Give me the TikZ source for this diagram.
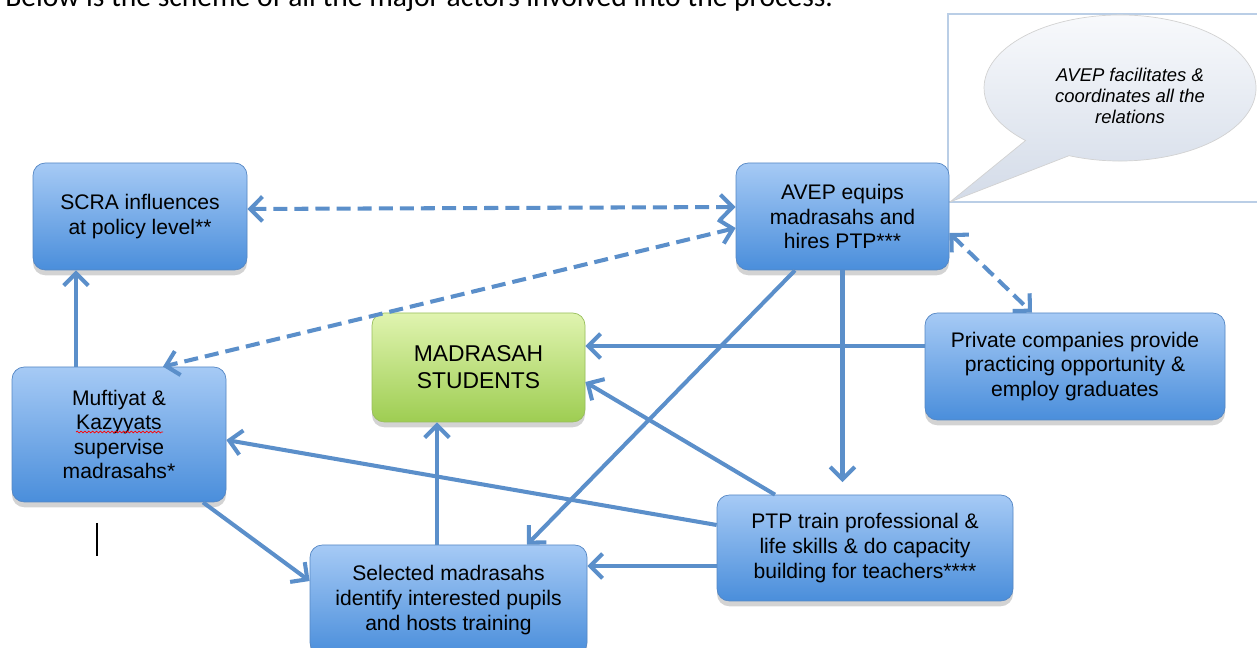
\documentclass[tikz,border=0pt]{standalone}
\usepackage{fontspec}
\setmainfont{Liberation Sans}
\newfontfamily\bodyfont{Carlito}
\usetikzlibrary{calc,shapes,positioning,shadows,arrows.meta}
\usetikzlibrary{decorations.pathmorphing}

\definecolor{boxtop}{HTML}{A6CAF5}
\definecolor{boxbot}{HTML}{4A8EDB}
\definecolor{boxline}{HTML}{5587C4}
\definecolor{grtop}{HTML}{E0F4B0}
\definecolor{grbot}{HTML}{9ECD52}
\definecolor{grline}{HTML}{98BE5C}
\definecolor{linkc}{HTML}{5B8FCA}
\definecolor{calltop}{HTML}{FAFBFD}
\definecolor{callbot}{HTML}{D3DBE8}
\definecolor{framec}{HTML}{BACEE6}

\begin{document}
\begin{tikzpicture}[>={Straight Barb[length=7pt,width=14pt]}]
    \tikzstyle{bnode} = [draw=boxline, rounded corners=7pt, top color=boxtop, bottom color=boxbot, align=center,
    font=\fontsize{12}{14}\selectfont, inner sep=2pt, drop shadow={shadow xshift=0pt, shadow yshift=-3pt, opacity=0.35}]
    \tikzstyle{gnode} = [bnode, draw=grline, top color=grtop, bottom color=grbot, font=\fontsize{13}{15.5}\selectfont]
    \tikzstyle{link} = [->, draw=linkc, line width=2.3pt]
    \tikzstyle{dlink} = [link, <->, dash pattern=on 8pt off 4pt]

    \useasboundingbox (0,0) rectangle (25.14,12.96);

    % line of text above, cut by the page edge
    \node[anchor=base west, inner sep=0pt, font=\bodyfont\fontsize{16.8}{19}\selectfont] (head) at (0.1,12.82)
    {Below is the scheme of all the major actors involved into the process.};

    % callout in its frame
    \draw[framec, line width=0.6pt] (25.3,8.92) -- (18.96,8.92) -- (18.96,12.68) -- (25.3,12.68);
    \coordinate (tip) at (19.0,8.92);
    \coordinate (cc) at (22.4,11.2);
    \draw[draw=gray!35, top color=calltop, bottom color=callbot] (tip) -- ($(cc)+(248:2.72 and 1.46)$)
    arc[start angle=248, end angle=586, x radius=2.72, y radius=1.46] -- cycle;
    \node[align=center, font=\itshape\fontsize{10.5}{12}\selectfont] (call) at (22.6,11.05)
    {AVEP facilitates \&\\coordinates all the\\relations};

    \node[bnode, minimum width=4.28cm, minimum height=2.14cm] (scra) at (2.80,8.63) {SCRA influences\\at policy level**};
    \node[bnode, minimum width=4.26cm, minimum height=2.14cm] (avep) at (16.85,8.63) {AVEP equips\\madrasahs and\\hires PTP***};
    \node[bnode, minimum width=4.28cm, minimum height=2.70cm] (muft) at (2.38,4.27) {Muftiyat \&\\Kazyyats\\supervise\\madrasahs*};
    \node[gnode, minimum width=4.26cm, minimum height=2.18cm] (stud) at (9.57,5.61) {MADRASAH\\STUDENTS};
    \node[bnode, minimum width=6.0cm, minimum height=2.14cm] (priv) at (21.50,5.63) {Private companies provide\\practicing opportunity \&\\employ graduates};
    \node[bnode, minimum width=5.92cm, minimum height=2.12cm] (ptp) at (17.30,2.00) {PTP train professional \&\\life skills \& do capacity\\building for teachers****};
    \node[bnode, minimum width=5.54cm, minimum height=2.2cm] (sel) at (8.97,0.96) {Selected madrasahs\\identify interested pupils\\and hosts training};

    % spell-check squiggle and stray cursor
    \draw[red, line width=0.4pt, decorate, decoration={snake, amplitude=0.5pt, segment length=2.2pt}]
    ($(muft.center)+(-0.86,0.05)$) -- ($(muft.center)+(0.88,0.05)$);
    \draw[black, line width=0.6pt] (1.94,2.50) -- (1.94,1.84);

    \coordinate (p1) at ([yshift=0.41cm]priv.west);
    \coordinate (p2) at ([yshift=-0.36cm]ptp.west);
    \coordinate (m1) at ([xshift=-0.86cm]muft.north);
    \coordinate (s1) at ([xshift=-0.23cm]sel.north);

    \draw[dlink] ([yshift=0.15cm]scra.east) -- ([yshift=0.19cm]avep.west);
    \draw[dlink] ([yshift=-0.23cm]avep.west) -- ([xshift=0.88cm]muft.north);
    \draw[dlink] ([yshift=-0.33cm]avep.east) -- ([xshift=-0.86cm]priv.north);

    \draw[link] (m1) -- (m1 |- scra.south);
    \draw[link] (p1) -- (p1 -| stud.east);
    \draw[link, shorten >=0.25cm] (avep.south) -- (avep.south |- ptp.north);
    \draw[link] ([xshift=-0.95cm]avep.south) -- ([xshift=1.57cm]sel.north);
    \draw[link] ([xshift=-1.8cm]ptp.north) -- ([yshift=-0.29cm]stud.east);
    \draw[link] ([yshift=0.46cm]ptp.west) -- ([yshift=-0.11cm]muft.east);
    \draw[link] (p2) -- (p2 -| sel.east);
    \draw[link] (s1) -- (s1 |- stud.south);
    \draw[link] ([xshift=1.68cm]muft.south) -- ([yshift=0.38cm]sel.west);
\end{tikzpicture}
\end{document}
